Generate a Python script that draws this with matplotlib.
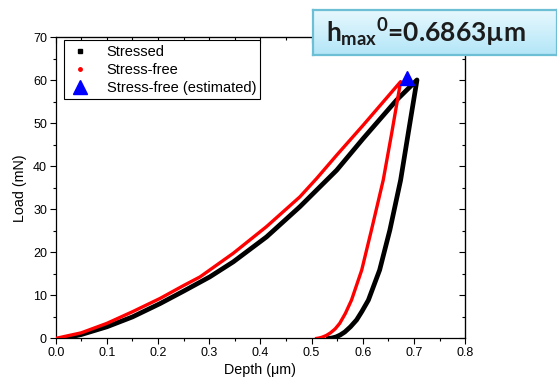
import numpy as np
import matplotlib
matplotlib.use("Agg")
import matplotlib.pyplot as plt
from matplotlib.ticker import MultipleLocator, FormatStrFormatter
from matplotlib.lines import Line2D

plt.rcParams['font.family'] = ['Liberation Sans', 'DejaVu Sans']
plt.rcParams['mathtext.fontset'] = 'custom'
plt.rcParams['mathtext.rm'] = 'Lato:bold'
plt.rcParams['mathtext.it'] = 'Lato:bold'
plt.rcParams['mathtext.bf'] = 'Lato:bold'

# Stressed specimen: loading then unloading (depth in um, load in mN)
stressed_depth = [0.015, 0.05, 0.10, 0.15, 0.204, 0.25, 0.301, 0.347, 0.412, 0.477, 0.51, 0.549, 0.601, 0.666, 0.706,
                  0.690, 0.674, 0.653, 0.633, 0.611, 0.598, 0.588, 0.576, 0.565, 0.556, 0.548, 0.540, 0.533]
stressed_load = [0.0, 0.9, 2.7, 5.0, 8.1, 11.0, 14.3, 17.8, 23.6, 30.6, 34.5, 39.1, 46.5, 55.4, 60.1,
                 48.5, 36.8, 25.2, 15.9, 8.9, 6.2, 4.3, 2.7, 1.5, 0.8, 0.35, 0.1, 0.0]

# Stress-free specimen: loading then unloading
free_depth = [0.0, 0.05, 0.10, 0.15, 0.204, 0.25, 0.282, 0.347, 0.412, 0.477, 0.51, 0.549, 0.601, 0.674,
              0.657, 0.640, 0.617, 0.598, 0.578, 0.566, 0.555, 0.546, 0.537, 0.529, 0.521, 0.515, 0.510]
free_load = [0.0, 1.3, 3.5, 6.2, 9.3, 12.3, 14.3, 19.8, 26.0, 32.9, 37.2, 42.6, 49.6, 59.7,
             48.0, 36.8, 25.2, 15.9, 8.9, 5.8, 3.5, 2.2, 1.3, 0.7, 0.3, 0.1, 0.0]

# Estimated stress-free peak
est_depth = [0.6863]
est_load = [60.5]

fig = plt.figure(figsize=(5.57, 3.85), dpi=100)
ax = fig.add_axes([0.100, 0.121, 0.735, 0.782])

ax.plot(stressed_depth, stressed_load, color='black', lw=3.4, zorder=2)
ax.plot(free_depth, free_load, color='red', lw=2.4, zorder=3)
ax.plot(est_depth, est_load, marker='^', color='blue', ms=10, ls='none', zorder=4)

ax.set_xlim(0, 0.8)
ax.set_ylim(0, 70)
ax.xaxis.set_major_locator(MultipleLocator(0.1))
ax.xaxis.set_minor_locator(MultipleLocator(0.05))
ax.yaxis.set_major_locator(MultipleLocator(10))
ax.yaxis.set_minor_locator(MultipleLocator(5))
ax.xaxis.set_major_formatter(FormatStrFormatter('%.1f'))

ax.tick_params(which='both', direction='out', labelsize=9, width=0.8, pad=2)
ax.tick_params(which='major', length=4.3)
ax.tick_params(which='minor', length=2.3)
for sp in ax.spines.values():
    sp.set_linewidth(0.9)

# mirrored inward ticks on top and right
axt = ax.secondary_xaxis('top')
axt.xaxis.set_major_locator(MultipleLocator(0.1))
axt.xaxis.set_minor_locator(MultipleLocator(0.05))
axt.tick_params(which='both', direction='in', labeltop=False, width=0.8)
axt.tick_params(which='major', length=4.3)
axt.tick_params(which='minor', length=2.3)
axr = ax.secondary_yaxis('right')
axr.yaxis.set_major_locator(MultipleLocator(10))
axr.yaxis.set_minor_locator(MultipleLocator(5))
axr.tick_params(which='both', direction='in', labelright=False, width=0.8)
axr.tick_params(which='major', length=4.3)
axr.tick_params(which='minor', length=2.3)

ax.set_xlabel('Depth (\u03bcm)', fontsize=10.3, labelpad=3)
ax.set_ylabel('Load (mN)', fontsize=10.3, labelpad=4)

handles = [
    Line2D([], [], marker='s', color='black', ls='none', ms=3),
    Line2D([], [], marker='o', color='red', ls='none', ms=2.5),
    Line2D([], [], marker='^', color='blue', ls='none', ms=10),
]
leg = ax.legend(handles, ['Stressed', 'Stress-free', 'Stress-free (estimated)'],
                loc='upper left', bbox_to_anchor=(0.021, 0.99), fontsize=10.5,
                frameon=True, fancybox=False, edgecolor='black', framealpha=1,
                borderpad=0.3, labelspacing=0.28, handletextpad=1.0, handlelength=1.6,
                borderaxespad=0)
leg.get_frame().set_linewidth(0.8)

# annotation box with a light blue gradient
bx = fig.add_axes([313 / 557, 1 - 55 / 385, (557 - 313) / 557, 45 / 385])
grad = np.linspace(0, 1, 64).reshape(-1, 1)
top = np.array([0.91, 0.975, 0.995])
bot = np.array([0.70, 0.90, 0.97])
img = top[None, None, :] * (1 - grad[:, :, None]) + bot[None, None, :] * grad[:, :, None]
bx.imshow(img, aspect='auto', extent=[0, 1, 0, 1], origin='upper')
bx.set_xlim(0, 1)
bx.set_ylim(0, 1)
bx.set_xticks([])
bx.set_yticks([])
for sp in bx.spines.values():
    sp.set_color('#6cbfd4')
    sp.set_linewidth(1.6)
bx.text(0.055, 0.49, '$h_{max}$$^{0}$=0.6863\u00b5m', family=['Lato', 'DejaVu Sans'],
        fontsize=19, fontweight='bold', va='center', ha='left', color='#1c1c1c')

fig.savefig('out.png', dpi=100)
